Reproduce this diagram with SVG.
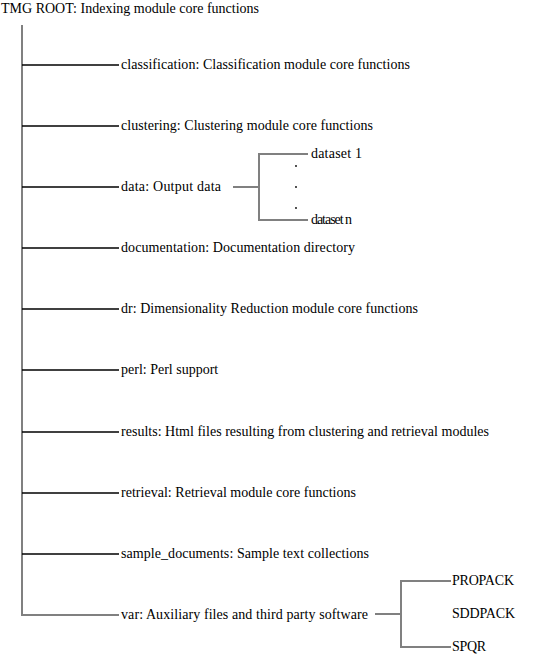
<svg xmlns="http://www.w3.org/2000/svg" width="535" height="654" viewBox="0 0 535 654">
<style>
.g{stroke:#808080;stroke-width:2;fill:none}
.k{stroke:#000;stroke-width:1.3;fill:none}
.d{fill:#000}
</style>
<rect width="535" height="654" fill="#fff"/>
<g id="connectors">
<line class="g" x1="22" y1="25" x2="22" y2="616"/>
<line class="k" x1="22" y1="65" x2="119" y2="65"/>
<line class="k" x1="22" y1="126" x2="119" y2="126"/>
<line class="k" x1="22" y1="187" x2="119" y2="187"/>
<line class="k" x1="22" y1="248" x2="119" y2="248"/>
<line class="k" x1="22" y1="309" x2="119" y2="309"/>
<line class="k" x1="22" y1="370" x2="119" y2="370"/>
<line class="k" x1="22" y1="432" x2="119" y2="432"/>
<line class="k" x1="22" y1="493" x2="119" y2="493"/>
<line class="k" x1="22" y1="554" x2="119" y2="554"/>
<line class="g" x1="22" y1="615" x2="119" y2="615"/>
<path class="g" d="M233 187H259M308 154H259V220H308"/>
<path class="g" d="M375 614H401M451 581H401V647H451"/>
</g>
<g font-family="'Liberation Serif', serif" font-size="14" fill="#000">
<g id="root"><text x="1" y="13" textLength="258">TMG ROOT: Indexing module core functions</text></g>
<g id="classification"><text x="121" y="69" textLength="289">classification: Classification module core functions</text></g>
<g id="clustering"><text x="121" y="130" textLength="252">clustering: Clustering module core functions</text></g>
<g id="data"><text x="121" y="191" textLength="100">data: Output data</text></g>
<g id="dataset1"><text x="311" y="158" textLength="51">dataset 1</text></g>
<g id="datasetdots"><circle class="d" cx="296" cy="166" r="0.9"/><circle class="d" cx="296" cy="187" r="0.9"/><circle class="d" cx="296" cy="208" r="0.9"/></g>
<g id="datasetn"><text x="311" y="224" textLength="41">dataset n</text></g>
<g id="documentation"><text x="121" y="252" textLength="234">documentation: Documentation directory</text></g>
<g id="dr"><text x="121" y="313" textLength="297">dr: Dimensionality Reduction module core functions</text></g>
<g id="perl"><text x="121" y="374">perl: Perl support</text></g>
<g id="results"><text x="121" y="436" textLength="368">results: Html files resulting from clustering and retrieval modules</text></g>
<g id="retrieval"><text x="121" y="497" textLength="235">retrieval: Retrieval module core functions</text></g>
<g id="sample_documents"><text x="121" y="558" textLength="248">sample_documents: Sample text collections</text></g>
<g id="var"><text x="121" y="619" textLength="247">var: Auxiliary files and third party software</text></g>
<g id="propack"><text x="452" y="585" textLength="62">PROPACK</text></g>
<g id="sddpack"><text x="452" y="618" textLength="63">SDDPACK</text></g>
<g id="spqr"><text x="452" y="651" textLength="34">SPQR</text></g>
</g>
</svg>
